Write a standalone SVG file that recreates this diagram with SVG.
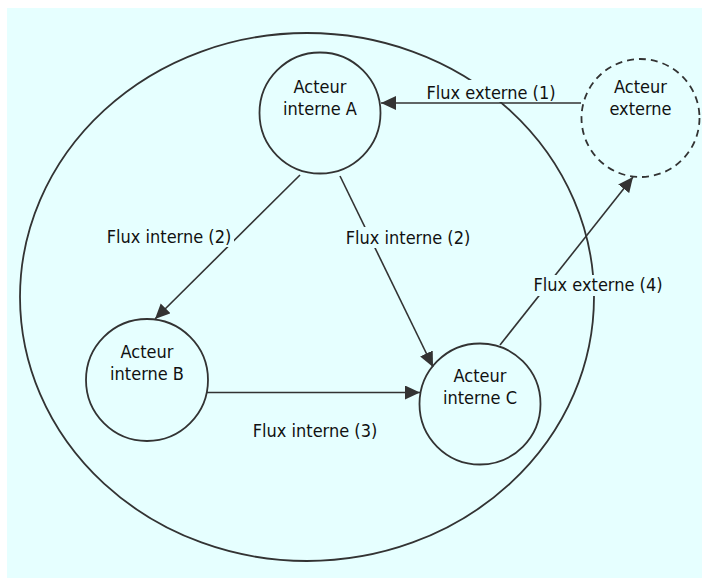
<svg xmlns="http://www.w3.org/2000/svg" width="702" height="578" viewBox="0 0 702 578">
  <defs>
    <marker id="arrow" markerUnits="userSpaceOnUse" markerWidth="16" markerHeight="15" refX="15" refY="7" orient="auto">
      <path d="M0,0 L15,7 L0,14 Z" fill="#333333"/>
    </marker>
    <style>
      .bg { fill: #e6ffff; }
      .node { fill: #e6ffff; stroke: #333333; stroke-width: 1.8; }
      .dashed { stroke-dasharray: 7 5; }
      .edge { fill: none; stroke: #333333; stroke-width: 1.6; marker-end: url(#arrow); }
      .label-bg { fill: #e6ffff; }
      text { font-family: "DejaVu Sans Condensed", "DejaVu Sans", sans-serif; font-stretch: condensed; font-size: 18px; fill: #111111; text-anchor: middle; }
    </style>
  </defs>

  <!-- canvas -->
  <rect x="0" y="0" width="702" height="578" fill="#ffffff"/>
  <rect class="bg" x="7" y="8" width="695" height="570"/>

  <!-- organisation boundary -->
  <g id="perimetre">
    <ellipse cx="307" cy="297" rx="287" ry="264" fill="none" stroke="#333333" stroke-width="1.8"/>
  </g>

  <!-- nodes -->
  <g id="acteur-interne-a">
    <circle class="node" cx="320" cy="113" r="60.5"/>
    <text x="320" y="93">Acteur</text>
    <text x="320" y="115">interne A</text>
  </g>
  <g id="acteur-interne-b">
    <circle class="node" cx="147" cy="380" r="61"/>
    <text x="147" y="358">Acteur</text>
    <text x="147" y="380">interne B</text>
  </g>
  <g id="acteur-interne-c">
    <circle class="node" cx="480" cy="404" r="60.5"/>
    <text x="480" y="381.5">Acteur</text>
    <text x="480" y="403.5">interne C</text>
  </g>
  <g id="acteur-externe">
    <circle class="node dashed" cx="640.5" cy="118" r="59"/>
    <text x="640.5" y="93">Acteur</text>
    <text x="640.5" y="115">externe</text>
  </g>

  <!-- connectors -->
  <g id="flux">
    <path class="edge" d="M581,103 H381"/>
    <path class="edge" d="M300,175 L155,319"/>
    <path class="edge" d="M340,176 L433,367"/>
    <path class="edge" d="M207,392.5 H420"/>
    <path class="edge" d="M500,345 L633,177"/>

    <rect class="label-bg" x="423" y="80" width="136" height="22"/>
    <text x="491" y="99">Flux externe (1)</text>

    <rect class="label-bg" x="104" y="226" width="130" height="21"/>
    <text x="169" y="243">Flux interne (2)</text>

    <rect class="label-bg" x="343" y="227" width="130" height="21"/>
    <text x="408" y="244">Flux interne (2)</text>

    <rect class="label-bg" x="250" y="420" width="130" height="21"/>
    <text x="315" y="437">Flux interne (3)</text>

    <rect class="label-bg" x="531" y="275" width="134" height="21"/>
    <text x="598" y="291">Flux externe (4)</text>
  </g>
</svg>
